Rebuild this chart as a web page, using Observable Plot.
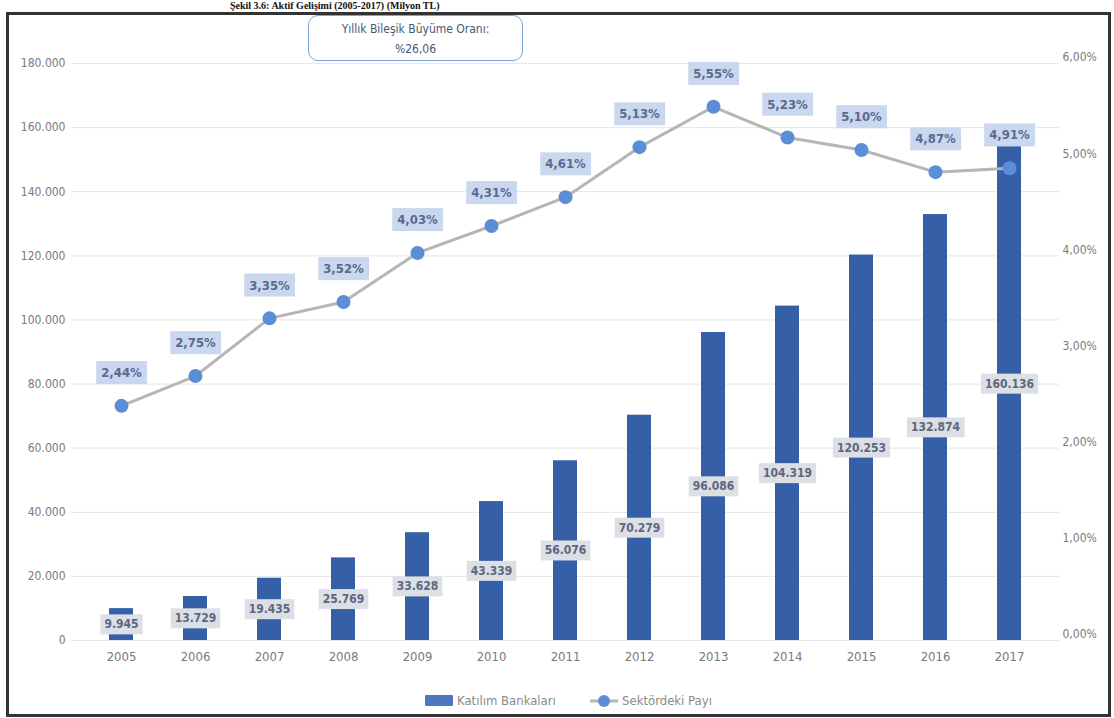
<!DOCTYPE html>
<html><head><meta charset="utf-8">
<script src="https://cdn.jsdelivr.net/npm/d3@7"></script>
<script src="https://cdn.jsdelivr.net/npm/@observablehq/plot@0.6"></script>
<style>
body{margin:0;background:#fff;}
#wrap{position:relative;width:1114px;height:718px;overflow:hidden;font-family:"Liberation Sans Narrow","DejaVu Sans Condensed","Liberation Sans",sans-serif;}
#frame{position:absolute;left:6px;top:12px;width:1099px;height:699px;border:3px solid #333;box-sizing:content-box;pointer-events:none;}
#title{position:absolute;left:230px;top:1px;font:bold 10px/10px "Liberation Serif",serif;color:#111;white-space:nowrap;}
#note{position:absolute;left:308px;top:15px;width:215px;height:46px;border:1.5px solid #7ea3d6;border-radius:10px;background:#fff;text-align:center;color:#4a5678;font-size:12px;line-height:20px;padding-top:3px;box-sizing:border-box;}
#legend{position:absolute;left:0;top:686px;width:1114px;height:30px;}
#chart{position:absolute;left:0;top:0;}
</style></head>
<body><div id="wrap">
<div id="chart"></div>
<div id="title">Şekil 3.6: Aktif Gelişimi (2005-2017) (Milyon TL)</div>
<div id="note">Yıllık Bileşik Büyüme Oranı:<br>%26,06</div>
<svg id="legend" width="1114" height="30">
  <rect x="425" y="9" width="28" height="11" fill="#4f74c0" rx="1"/>
  <text x="457" y="19" font-size="13" fill="#8a8a8a">Katılım Bankaları</text>
  <line x1="590" y1="15" x2="618" y2="15" stroke="#b4b4b4" stroke-width="3"/>
  <circle cx="604" cy="15" r="6" fill="#5b8ed6"/>
  <text x="622" y="19" font-size="13" fill="#8a8a8a">Sektördeki Payı</text>
</svg>
<div id="frame"></div>
</div>
<script>
const years = ["2005","2006","2007","2008","2009","2010","2011","2012","2013","2014","2015","2016","2017"];
const assets = [9945, 13729, 19435, 25769, 33628, 43339, 56076, 70279, 96086, 104319, 120253, 132874, 160136];
const shares = [2.44, 2.75, 3.35, 3.52, 4.03, 4.31, 4.61, 5.13, 5.55, 5.23, 5.10, 4.87, 4.91];
const leftTicks = [0, 20000, 40000, 60000, 80000, 100000, 120000, 140000, 160000, 180000];
const rightTicks = [0, 1, 2, 3, 4, 5, 6];

const ratio = 180000 / 6;
const data = years.map((y, i) => ({year: y, value: assets[i], share: shares[i]}));
const thous = d => d3.format(",")(d).replace(/,/g, ".");
const pct = d => d.toFixed(2).replace(".", ",") + "%";
const BAR_LABEL = "#5d6680", PCT_LABEL = "#5a6a8f";

const chart = Plot.plot({
  width: 1114, height: 680,
  marginLeft: 71, marginRight: 55, marginTop: 63, marginBottom: 40,
  x: {type: "band", domain: years, paddingInner: 0.67, paddingOuter: 0.5, axis: null},
  y: {domain: [0, 180000], axis: null},
  style: {fontFamily: '"Liberation Sans Narrow","DejaVu Sans Condensed","Liberation Sans",sans-serif', fontSize: "12px", background: "transparent", overflow: "visible"},
  marks: [
    Plot.ruleY(leftTicks, {stroke: "#e9e9e9", strokeWidth: 1.2}),
    Plot.text(leftTicks, {y: d => d, text: thous, frameAnchor: "left", textAnchor: "end", dx: -6, fill: "#7a7a7a", fontSize: 12}),
    Plot.text(rightTicks, {y: d => d * ratio, text: d => d.toFixed(2).replace(".", ",") + "%", frameAnchor: "right", textAnchor: "start", dx: 3, dy: -6, fill: "#7a7a7a", fontSize: 12}),
    Plot.text(years, {x: d => d, text: d => d, frameAnchor: "bottom", dy: 20, fill: "#7a7a7a", fontSize: 13}),
    Plot.barY(data, {x: "year", y: "value", fill: "#3560a8"}),
    Plot.line(data, {x: "year", y: d => d.share * ratio, stroke: "#b6b6b6", strokeWidth: 3}),
    Plot.dot(data, {x: "year", y: d => d.share * ratio, r: 7, fill: "#5b8ed6"}),
    Plot.text(data, {x: "year", y: d => d.value / 2, text: d => thous(d.value), fill: BAR_LABEL, fontSize: 12, fontWeight: "bold"}),
    Plot.text(data, {x: "year", y: d => d.share * ratio, dy: -33, text: d => pct(d.share), fill: PCT_LABEL, fontSize: 13, fontWeight: "bold"})
  ]
});
document.getElementById("chart").appendChild(chart);

function boxes(color, fill, px, py) {
  chart.querySelectorAll("g").forEach(g => {
    if ((g.getAttribute("fill") || "").toLowerCase() !== color) return;
    g.querySelectorAll("text").forEach(t => {
      const b = t.getBBox();
      const r = document.createElementNS("http://www.w3.org/2000/svg", "rect");
      r.setAttribute("x", b.x - px);
      r.setAttribute("y", b.y - py);
      r.setAttribute("width", b.width + 2 * px);
      r.setAttribute("height", b.height + 2 * py);
      r.setAttribute("fill", fill);
      r.setAttribute("stroke", "none");
      const tr = t.getAttribute("transform");
      if (tr) r.setAttribute("transform", tr);
      t.parentNode.insertBefore(r, t);
    });
  });
}
boxes(BAR_LABEL, "#dcdfe4", 4, 3);
boxes(PCT_LABEL, "#c9d7ef", 5, 4);
</script>
</body></html>
